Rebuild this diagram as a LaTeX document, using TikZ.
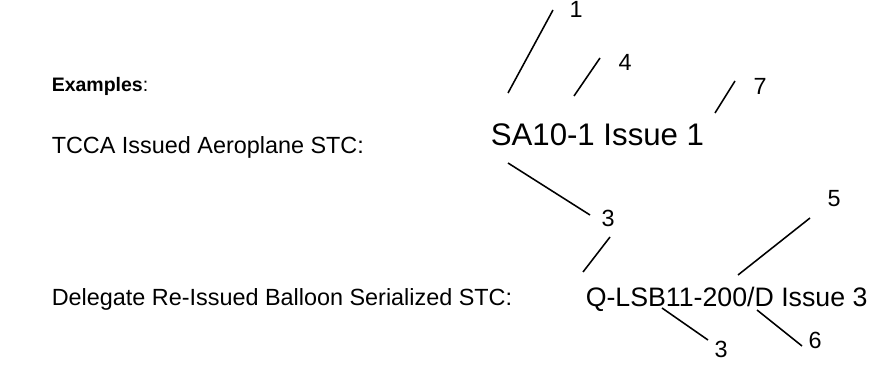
\documentclass[tikz,border=0pt]{standalone}
\usepackage{fontspec}
\setmainfont{Liberation Sans}

\begin{document}
\begin{tikzpicture}[x=0.5128pt,y=-0.5128pt,line width=0.8pt]
            \useasboundingbox (0,0) rectangle (870,374);
            \begin{scope}[every node/.style={inner sep=0pt,font=\fontsize{12}{14}\selectfont}]
                \node[anchor=base west,font=\fontsize{10}{12}\selectfont] (hdr) at (51,92) {\textbf{Examples}:};
                \node[anchor=base west] (tcca) at (51,154) {TCCA Issued Aeroplane STC:};
                \node[anchor=base west] (deleg) at (51,305) {Delegate Re-Issued Balloon Serialized STC:};
                \node[anchor=base west,font=\fontsize{16}{19}\selectfont] (sa) at (490,146) {SA10-1 Issue 1};
                \node[anchor=base west,font=\fontsize{13.7}{16}\selectfont] (qlsb) at (585,306) {Q-LSB11-200/D Issue 3};
                \node[anchor=base] (n1) at (576,18) {1};
                \node[anchor=base] (n4) at (625,70) {4};
                \node[anchor=base] (n7) at (760,95) {7};
                \node[anchor=base] (n3a) at (608,226) {3};
                \node[anchor=base] (n5) at (834,206) {5};
                \node[anchor=base] (n3b) at (721,357) {3};
                \node[anchor=base] (n6) at (815,348) {6};
            \end{scope}
            \coordinate (a1) at (508,93);  \coordinate (b1) at (553,10);
            \coordinate (a4) at (574,96);  \coordinate (b4) at (600,58);
            \coordinate (a7) at (715,113); \coordinate (b7) at (735,81);
            \coordinate (a3a) at (508,163); \coordinate (b3a) at (590,215);
            \coordinate (a3b) at (583,272); \coordinate (b3b) at (610,237);
            \coordinate (a5) at (738,275); \coordinate (b5) at (810,218);
            \coordinate (a3c) at (662,308); \coordinate (b3c) at (708,340);
            \coordinate (a6) at (757,310); \coordinate (b6) at (802,346);
            \draw (a1) edge (b1);
            \draw (a4) edge (b4);
            \draw (a7) edge (b7);
            \draw (a3a) edge (b3a);
            \draw (a3b) edge (b3b);
            \draw (a5) edge (b5);
            \draw (a3c) edge (b3c);
            \draw (a6) edge (b6);
        \end{tikzpicture}
\end{document}
